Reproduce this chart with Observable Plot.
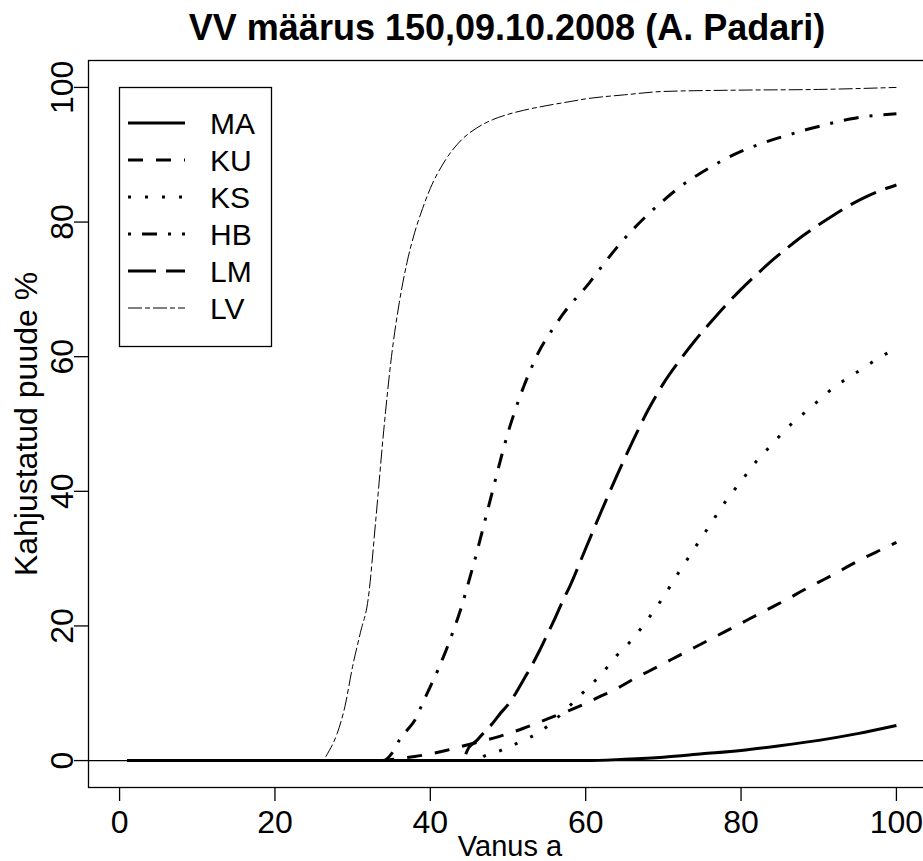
<!DOCTYPE html>
<html>
<head>
<meta charset="utf-8">
<script src="https://cdn.jsdelivr.net/npm/d3@7"></script>
<script src="https://cdn.jsdelivr.net/npm/@observablehq/plot@0.6"></script>
<style>
  html, body { margin: 0; padding: 0; background: #fff; overflow: hidden; }
  #chart svg { display: block; overflow: hidden; }
</style>
</head>
<body>
<div id="chart"></div>
<script>
// Labels
const title = "VV määrus 150,09.10.2008 (A. Padari)";
const xLabel = "Vanus a";
const yLabel = "Kahjustatud puude %";
const xTicks = [0, 20, 40, 60, 80, 100];
const yTicks = [0, 20, 40, 60, 80, 100];
const seriesNames = ["MA", "KU", "KS", "HB", "LM", "LV"];

// Share of damaged trees (%) by stand age, one array of [age, %] per species
const MA = [[1,0],[60,0],[65,0.2],[70,0.5],[75,1],[80,1.5],[85,2.2],[90,3],[95,4],[100,5.2]];
const KU = [[1,0],[33,0],[36,0.3],[38,0.6],[40,1],[42,1.5],[44,2.1],[46,2.7],[48,3.3],[50,4],[52,4.8],[54,5.7],[56,6.6],[58,7.5],[60,8.5],[62,9.6],[64,10.7],[66,12],[68,13.2],[70,14.4],[72,15.6],[74,16.8],[76,18],[78,19.2],[80,20.4],[82,21.6],[84,22.8],[86,24],[88,25.3],[90,26.5],[92,27.7],[94,29],[96,30.2],[98,31.3],[100,32.4]];
const KS = [[1,0],[46,0],[47,0.7],[48.6,1.3],[50,2],[52,3],[54,4.2],[56,6],[58,8.2],[60,10.5],[62,12.8],[64,15.6],[66,18],[68,21],[70,24.3],[72,28],[74,31.5],[76,35],[78,38.5],[80,41.5],[82,44.5],[84,47],[86,49.5],[88,51.5],[90,53.5],[92,55.5],[94,57],[96,58.5],[98,60],[100,61.2]];
const HB = [[1,0],[34,0],[35,1],[36,3],[37,4.5],[38,6],[39,8.5],[40,11],[41,13.5],[42,16.3],[43,19.4],[44,22.8],[45,26.8],[46,31],[47,35.5],[48,40],[49,44.5],[50,48.7],[51,52.3],[52,55.5],[53,58.3],[54,60.8],[55,62.8],[56,64.5],[57,66.2],[58,67.7],[59,69],[60,70.3],[62,73.3],[64,76.2],[66,78.8],[68,81.1],[70,83.2],[72,85.1],[74,86.7],[76,88.1],[78,89.4],[80,90.5],[82,91.4],[84,92.2],[86,92.9],[88,93.6],[90,94.2],[92,94.8],[94,95.3],[96,95.7],[98,95.9],[100,96.1]];
const LM = [[1,0],[44,0],[45,2],[46,3],[47,4.3],[48,5.5],[49,7],[50,8.3],[51,10],[52,12],[53,14],[54,16.2],[55,18.6],[56,21],[57,23.6],[58,26],[60,31.5],[62,37],[64,42.3],[66,47.3],[68,52],[70,56],[72,59.3],[74,62.3],[76,65],[78,67.6],[80,70],[82,72.2],[84,74.3],[86,76.2],[88,78],[90,79.6],[92,81.1],[94,82.5],[96,83.7],[98,84.7],[100,85.5]];
const LV = [[1,0],[26,0],[27,1.5],[28,4],[29,8],[30,14],[31,19],[32,24],[33,36],[34,49],[35,60],[36,68],[37,74],[38,78.5],[39,82],[40,85],[42,89.3],[44,92.2],[46,94],[48,95.2],[50,96],[52,96.6],[55,97.3],[58,97.9],[60,98.3],[65,98.9],[70,99.4],[80,99.6],[90,99.7],[100,100]];

const seriesData = {MA, KU, KS, HB, LM, LV};

// Line styles (R-like lty)
const dash = {MA: null, KU: "15,13", KS: "3,14", HB: "3,11,15,11", LM: "28,10", LV: "14,3,5,3"};
const lw = {MA: 3, KU: 3, KS: 3, HB: 3, LM: 3, LV: 1};

const font = "'Liberation Sans', Arial, sans-serif";

const lines = seriesNames.map(name =>
  Plot.line(seriesData[name], {
    x: d => d[0], y: d => d[1],
    stroke: "black", strokeWidth: lw[name],
    strokeDasharray: dash[name] ?? undefined,
    strokeLinecap: "butt", strokeLinejoin: "round",
    curve: "monotone-x"
  })
);

const plot = Plot.plot({
  width: 923, height: 861,
  marginLeft: 88, marginRight: -4, marginTop: 60, marginBottom: 74,
  style: {fontFamily: font, fontSize: "32px", color: "black", background: "white", overflow: "hidden"},
  x: {domain: [-4, 104], label: null},
  y: {domain: [-4, 104], label: null},
  marks: [
    Plot.frame({stroke: "black", strokeWidth: 1.3}),
    Plot.ruleY([0], {stroke: "black", strokeWidth: 1.2}),
    ...lines,
    Plot.axisX({ticks: xTicks, tickSize: 14, tickPadding: 9, fontSize: 32, label: null, strokeWidth: 1.3}),
    Plot.axisY({ticks: yTicks, tickSize: 14, tickPadding: 2, tickRotate: -90, fontSize: 32, label: null, strokeWidth: 1.3})
  ]
});

document.getElementById("chart").appendChild(plot);

const svg = d3.select(plot);

// Title and axis titles
svg.append("text")
  .attr("x", 507).attr("y", 40)
  .attr("text-anchor", "middle")
  .style("font-family", font).style("font-size", "36px").style("font-weight", "bold")
  .attr("fill", "black")
  .text(title);

svg.append("text")
  .attr("x", 510).attr("y", 856)
  .attr("text-anchor", "middle")
  .style("font-family", font).style("font-size", "29px")
  .attr("fill", "black")
  .text(xLabel);

svg.append("text")
  .attr("transform", "translate(37,424) rotate(-90)")
  .attr("text-anchor", "middle")
  .style("font-family", font).style("font-size", "32px")
  .attr("fill", "black")
  .text(yLabel);

// Legend
const lg = svg.append("g");
lg.append("rect")
  .attr("x", 119.5).attr("y", 87.5).attr("width", 152).attr("height", 259)
  .attr("fill", "white").attr("stroke", "black").attr("stroke-width", 1.3);
seriesNames.forEach((name, i) => {
  const y = 123 + i * 37;
  lg.append("line")
    .attr("x1", 128).attr("x2", 185).attr("y1", y).attr("y2", y)
    .attr("stroke", "black").attr("stroke-width", lw[name])
    .attr("stroke-dasharray", dash[name])
    .attr("stroke-linecap", "butt");
  lg.append("text")
    .attr("x", 210).attr("y", y + 11)
    .attr("text-anchor", "start")
    .style("font-family", font).style("font-size", "30px")
    .attr("fill", "black")
    .text(name);
});
</script>
</body>
</html>
